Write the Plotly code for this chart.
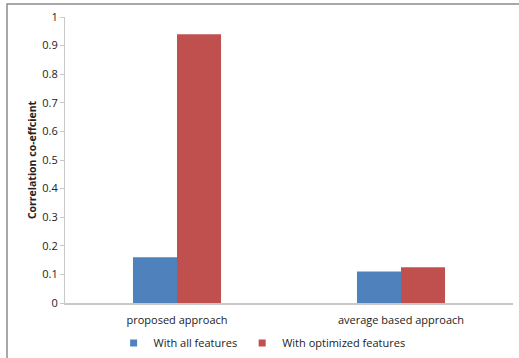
import plotly.graph_objects as go

categories = ["proposed approach", "average based approach"]
all_features = [0.16, 0.11]
optimized_features = [0.94, 0.125]
series_names = ["With all features", "With optimized features"]
series_colors = ["#4F81BD", "#C0504D"]
y_ticks = [0, 0.1, 0.2, 0.3, 0.4, 0.5, 0.6, 0.7, 0.8, 0.9, 1]
y_tick_labels = ["0", "0.1", "0.2", "0.3", "0.4", "0.5", "0.6", "0.7", "0.8", "0.9", "1"]

font_family = "Open Sans, Liberation Sans, sans-serif"

fig = go.Figure()
for name, vals, col in zip(series_names, [all_features, optimized_features], series_colors):
    fig.add_trace(go.Bar(name=name, x=categories, y=vals, showlegend=False,
                         marker=dict(color=col, line=dict(width=0))))
for name, col in zip(series_names, series_colors):
    fig.add_trace(go.Scatter(name=name, x=[None], y=[None], mode="markers",
                             marker=dict(symbol="square", size=7, color=col)))

fig.update_layout(
    width=519, height=358,
    margin=dict(l=65, r=6, t=17, b=55, autoexpand=False),
    paper_bgcolor="white", plot_bgcolor="white",
    barmode="group", bargap=0.607, bargroupgap=0,
    font=dict(family=font_family, size=11, color="#222"),
    showlegend=True,
    legend=dict(orientation="h", x=0.44, xanchor="center", y=-0.14, yanchor="middle",
                font=dict(size=11), itemwidth=30, traceorder="normal",
                bgcolor="rgba(0,0,0,0)"),
    xaxis=dict(showline=True, linecolor="#c8c8c8", linewidth=1.5, ticks="",
               showgrid=False, tickfont=dict(size=11), ticklabelstandoff=6),
    yaxis=dict(range=[0, 1], tickvals=y_ticks, ticktext=y_tick_labels,
               showline=True, linecolor="#c8c8c8", linewidth=1, ticks="outside",
               ticklen=4, tickcolor="#c8c8c8", showgrid=False, zeroline=False,
               tickfont=dict(size=11),
               title=dict(text="<b>Correlation co-effcient</b>", font=dict(size=10.5), standoff=3)),
    shapes=[dict(type="rect", xref="paper", yref="paper",
                 x0=(7 - 65) / 448, x1=1.05, y0=-0.25, y1=(303 - 4) / 286,
                 line=dict(color="#8c8c8c", width=1.5), fillcolor="rgba(0,0,0,0)", layer="below")],
)

fig.write_html("out.html")
